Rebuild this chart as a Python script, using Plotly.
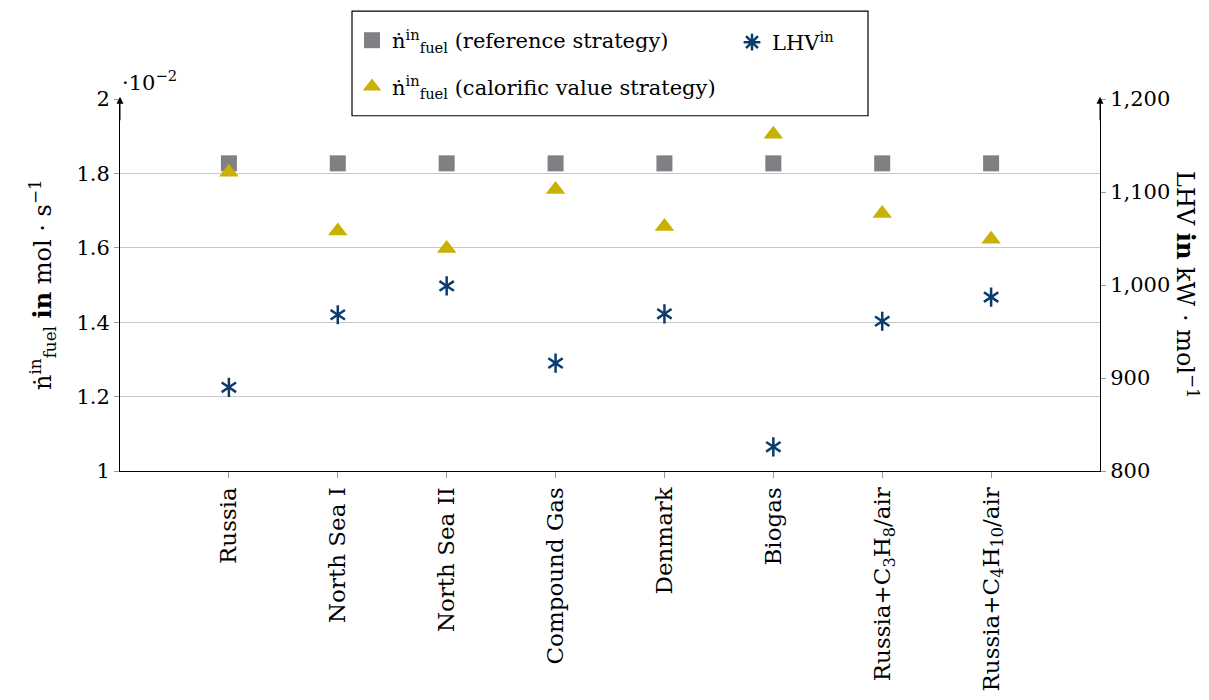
import plotly.graph_objects as go

# fuel mixtures on the x axis
fuels = ['Russia', 'North Sea I', 'North Sea II', 'Compound Gas', 'Denmark', 'Biogas',
         'Russia+C<sub>3</sub>H<sub>8</sub>/air', 'Russia+C<sub>4</sub>H<sub>10</sub>/air']

# fuel molar flow in 1e-2 mol/s
n_ref = [1.827, 1.827, 1.827, 1.827, 1.827, 1.827, 1.827, 1.827]
n_cal = [1.803, 1.645, 1.598, 1.757, 1.657, 1.905, 1.692, 1.623]

# lower heating value in kW/mol
lhv = [890, 968, 999, 916, 969, 826, 961, 987]

left_ticks = [1, 1.2, 1.4, 1.6, 1.8, 2]
right_ticks = [800, 900, 1000, 1100, 1200]

gray = '#808084'
gold = '#c8b100'
navy = '#0b3a6d'
font = 'DejaVu Serif'


def px(x):
    # page pixel -> paper x (plot area spans 120..1100 on the page)
    return (x - 120) / 980


def py(y):
    # page pixel -> paper y (plot area spans 94..471 on the page)
    return 1 + (94 - y) / 377


fig = go.Figure()

fig.add_trace(go.Scatter(
    x=fuels, y=n_ref, mode='markers', name='ṅ<sup>in</sup><sub>fuel</sub> (reference strategy)',
    marker=dict(symbol='square', size=16, color=gray), legend='legend', legendgroup='a'))
fig.add_trace(go.Scatter(
    x=fuels, y=n_cal, mode='markers', name='ṅ<sup>in</sup><sub>fuel</sub> (calorific value strategy)',
    marker=dict(symbol='triangle-up', size=17, color=gold), legend='legend', legendgroup='b'))

# 6-arm asterisk = y-up + y-down
fig.add_trace(go.Scatter(
    x=fuels, y=lhv, mode='markers', yaxis='y2', showlegend=False,
    marker=dict(symbol='y-up-open', size=12, color=navy, line=dict(color=navy, width=2.5))))
fig.add_trace(go.Scatter(
    x=fuels, y=lhv, mode='markers', yaxis='y2', showlegend=False,
    marker=dict(symbol='y-down-open', size=12, color=navy, line=dict(color=navy, width=2.5))))
# legend entry only
fig.add_trace(go.Scatter(
    x=[None], y=[None], mode='markers', yaxis='y2', name='LHV<sup>in</sup>', legend='legend2',
    marker=dict(symbol='asterisk-open', size=14, color=navy, line=dict(color=navy, width=2.5))))

fig.update_layout(
    width=1209, height=700,
    margin=dict(l=112, r=117, t=86, b=237),
    plot_bgcolor='white', paper_bgcolor='white',
    font=dict(family=font, size=21, color='black'),
    xaxis=dict(type='category', range=[-1, 8], showline=True, linecolor='black', linewidth=1,
               ticks='outside', ticklen=6, tickcolor='#999999', tickangle=-90,
               tickfont=dict(size=23), showgrid=False, zeroline=False),
    yaxis=dict(range=[1, 2], tickvals=left_ticks, ticktext=[f'{v:g}' for v in left_ticks],
               showline=True, linecolor='black', linewidth=1, ticks='outside', ticklen=5,
               tickcolor='#999999', showgrid=True, gridcolor='#c8c8c8', gridwidth=1,
               zeroline=False),
    yaxis2=dict(range=[800, 1200], tickvals=right_ticks, tickformat=',d', overlaying='y',
                side='right', showline=True, linecolor='black', linewidth=1, ticks='outside',
                ticklen=5, tickcolor='#999999', showgrid=False, zeroline=False),
    legend=dict(x=px(352), y=py(14), xanchor='left', yanchor='top', traceorder='grouped',
                tracegroupgap=16, bgcolor='rgba(0,0,0,0)', font=dict(size=21), itemwidth=30),
    legend2=dict(x=px(732), y=py(16), xanchor='left', yanchor='top',
                 bgcolor='rgba(0,0,0,0)', font=dict(size=21), itemwidth=30),
    shapes=[dict(type='rect', xref='paper', yref='paper',
                 x0=px(352), x1=px(868), y0=py(111), y1=py(5),
                 line=dict(color='black', width=1.2), fillcolor='white', layer='above')],
    annotations=[
        dict(text='·10<sup>−2</sup>', xref='paper', yref='paper', x=0, y=py(76),
             xanchor='left', yanchor='middle', showarrow=False, font=dict(size=21)),
        dict(text='ṅ<sup>in</sup><sub>fuel</sub> <b>in</b> mol · s<sup>−1</sup>',
             xref='paper', yref='paper', x=px(42), y=0.5, textangle=-90,
             xanchor='center', yanchor='middle', showarrow=False, font=dict(size=24)),
        dict(text='LHV <b>in</b> kW · mol<sup>−1</sup>',
             xref='paper', yref='paper', x=px(1187), y=0.5, textangle=90,
             xanchor='center', yanchor='middle', showarrow=False, font=dict(size=24)),
        dict(xref='paper', yref='paper', x=0, y=1.006, ax=0, ay=25, text='',
             showarrow=True, arrowhead=2, arrowsize=1.4, arrowwidth=1, arrowcolor='black'),
        dict(xref='paper', yref='paper', x=1, y=1.006, ax=0, ay=25, text='',
             showarrow=True, arrowhead=2, arrowsize=1.4, arrowwidth=1, arrowcolor='black'),
    ],
)

fig.write_html('out.html')
